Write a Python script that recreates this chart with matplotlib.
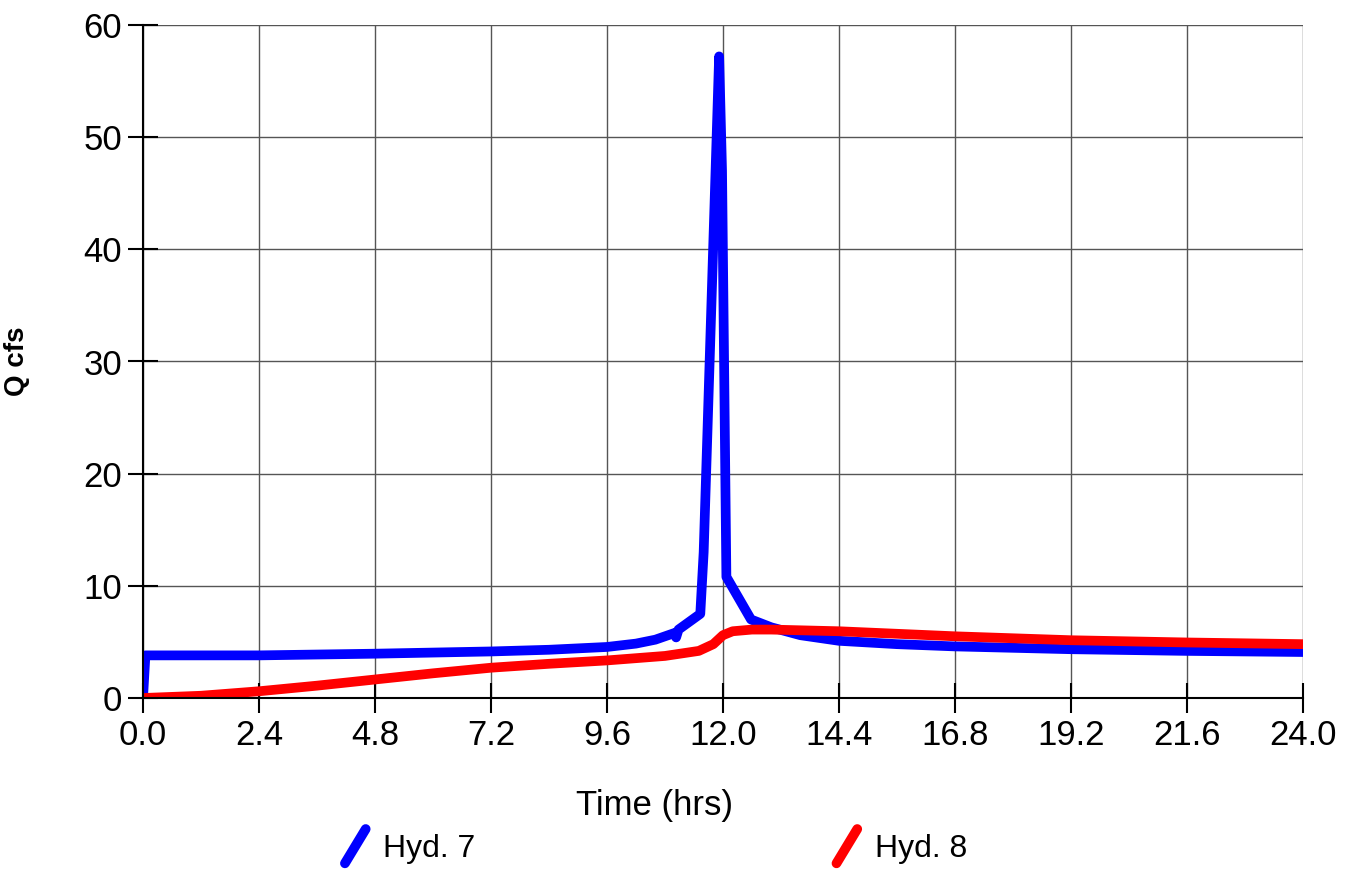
import matplotlib
matplotlib.use("Agg")
import matplotlib.pyplot as plt
from matplotlib.legend_handler import HandlerBase
from matplotlib.lines import Line2D
import numpy as np

plt.rcParams['font.family'] = ['Liberation Sans', 'DejaVu Sans']

# Hidrograma 7 (pico agudo)
t_hyd7 = [0.0, 0.05, 2.4, 4.8, 7.2, 8.4, 9.6, 10.2, 10.6, 11.0, 11.03, 11.08,
          11.53, 11.6, 11.68, 11.92, 11.98, 12.07, 12.58, 13.0, 13.6, 14.4,
          15.6, 16.8, 19.2, 21.6, 24.0]
q_hyd7 = [0.0, 3.8, 3.8, 3.95, 4.15, 4.3, 4.55, 4.85, 5.2, 5.8, 5.4, 6.1,
          7.5, 13.0, 24.0, 57.2, 47.0, 10.8, 7.0, 6.3, 5.6, 5.1,
          4.8, 4.6, 4.35, 4.2, 4.1]

# Hidrograma 8 (amortecido)
t_hyd8 = [0.0, 1.2, 2.4, 3.6, 4.8, 6.0, 7.2, 8.4, 9.6, 10.8, 11.5, 11.8,
          12.0, 12.2, 12.6, 13.0, 14.4, 16.8, 19.2, 21.6, 24.0]
q_hyd8 = [0.0, 0.2, 0.6, 1.1, 1.65, 2.2, 2.7, 3.05, 3.35, 3.75, 4.2, 4.8,
          5.6, 5.95, 6.1, 6.1, 5.95, 5.5, 5.15, 4.95, 4.8]

x_ticks = np.arange(0, 24.01, 2.4)
y_ticks = np.arange(0, 61, 10)


class SlashHandler(HandlerBase):
    # desenha a amostra da legenda como um traco inclinado
    def create_artists(self, legend, orig_handle, xdescent, ydescent,
                       width, height, fontsize, trans):
        line = Line2D([-xdescent, -xdescent + width],
                      [-ydescent - 0.1 * height, -ydescent + 1.1 * height],
                      color=orig_handle.get_color(),
                      lw=orig_handle.get_linewidth(),
                      solid_capstyle='round', transform=trans)
        return [line]


fig = plt.figure(figsize=(13.55, 8.72), dpi=100)
ax = fig.add_axes([143/1355, 1 - 698/872, 1160/1355, 673/872])

l7, = ax.plot(t_hyd7, q_hyd7, color='#0000ff', lw=7,
              solid_capstyle='round', solid_joinstyle='round', label='Hyd. 7')
l8, = ax.plot(t_hyd8, q_hyd8, color='#ff0000', lw=7,
              solid_capstyle='round', solid_joinstyle='round', label='Hyd. 8')

ax.set_xlim(0, 24)
ax.set_ylim(0, 60)
ax.set_xticks(x_ticks)
ax.set_xticklabels(["%.1f" % v for v in x_ticks])
ax.set_yticks(y_ticks)
ax.grid(True, color='#555555', lw=1)
ax.set_axisbelow(True)
for s in ['top', 'right']:
    ax.spines[s].set_visible(False)
for s in ['left', 'bottom']:
    ax.spines[s].set_linewidth(1.5)
ax.tick_params(direction='inout', length=22, width=1.5, pad=4, labelsize=25)

ax.set_xlabel("Time (hrs)", fontsize=25)
ax.xaxis.set_label_coords((655 - 143) / 1160, -0.135)
ax.set_ylabel("Q cfs", fontsize=20, fontweight='bold')
ax.yaxis.set_label_coords(-0.097, 0.5)

fig.legend(handles=[l7, l8], loc='center', ncol=2,
           bbox_to_anchor=(656/1355, 1 - 848/872), frameon=False,
           fontsize=23, handlelength=0.65, handleheight=1.0,
           handletextpad=0.55, columnspacing=11.3,
           handler_map={Line2D: SlashHandler()})

fig.savefig("out.png", dpi=100)
